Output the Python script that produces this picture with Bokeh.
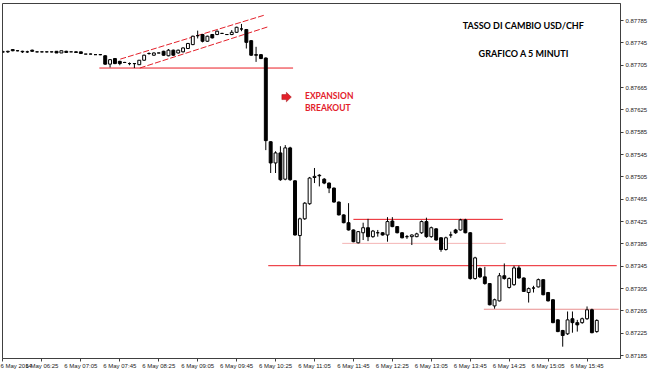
from bokeh.plotting import figure
from bokeh.models import Range1d, FixedTicker, ColumnDataSource, Label, NumeralTickFormatter
from bokeh.embed import file_html
from bokeh.resources import INLINE

# ---------------- data (USD/CHF, 5-minute bars, 6 May 2014) ----------------
open_ = [0.87729, 0.87729, 0.87733, 0.87731, 0.87730, 0.87729, 0.87732, 0.87729, 0.87729, 0.87729,
         0.87729, 0.87730, 0.87727, 0.87730, 0.87729, 0.87729, 0.87729, 0.87725, 0.87725, 0.87724,
         0.87724, 0.87722, 0.87707, 0.87717, 0.87712, 0.87710, 0.87708, 0.87708, 0.87706, 0.87714,
         0.87726, 0.87723, 0.87727, 0.87730, 0.87722, 0.87732, 0.87727, 0.87729, 0.87735, 0.87742,
         0.87758, 0.87760, 0.87748, 0.87760, 0.87760, 0.87762, 0.87760, 0.87760, 0.87764, 0.87770,
         0.87769, 0.87749, 0.87724, 0.87724, 0.87718, 0.87568, 0.87530, 0.87548, 0.87501, 0.87557,
         0.87498, 0.87400, 0.87430, 0.87457, 0.87504, 0.87508, 0.87501, 0.87494, 0.87485, 0.87460,
         0.87437, 0.87423, 0.87410, 0.87387, 0.87405, 0.87414, 0.87398, 0.87405, 0.87405, 0.87401,
         0.87426, 0.87416, 0.87405, 0.87398, 0.87398, 0.87398, 0.87405, 0.87425, 0.87398, 0.87412,
         0.87396, 0.87375, 0.87401, 0.87410, 0.87410, 0.87428, 0.87405, 0.87323, 0.87341, 0.87326,
         0.87314, 0.87274, 0.87283, 0.87328, 0.87307, 0.87312, 0.87342, 0.87324, 0.87298, 0.87306,
         0.87308, 0.87321, 0.87298, 0.87285, 0.87249, 0.87230, 0.87224, 0.87251, 0.87244, 0.87244,
         0.87251, 0.87267, 0.87228]
high = [0.87731, 0.87731, 0.87734, 0.87732, 0.87731, 0.87731, 0.87733, 0.87729, 0.87729, 0.87729,
        0.87729, 0.87730, 0.87731, 0.87731, 0.87729, 0.87730, 0.87729, 0.87725, 0.87726, 0.87724,
        0.87724, 0.87723, 0.87716, 0.87718, 0.87713, 0.87711, 0.87710, 0.87709, 0.87714, 0.87724,
        0.87728, 0.87728, 0.87727, 0.87731, 0.87734, 0.87733, 0.87733, 0.87737, 0.87745, 0.87758,
        0.87767, 0.87761, 0.87758, 0.87761, 0.87767, 0.87763, 0.87761, 0.87768, 0.87774, 0.87779,
        0.87770, 0.87750, 0.87738, 0.87725, 0.87719, 0.87569, 0.87551, 0.87560, 0.87562, 0.87559,
        0.87499, 0.87432, 0.87460, 0.87505, 0.87521, 0.87510, 0.87503, 0.87495, 0.87486, 0.87461,
        0.87438, 0.87458, 0.87411, 0.87408, 0.87423, 0.87430, 0.87410, 0.87410, 0.87406, 0.87433,
        0.87433, 0.87417, 0.87406, 0.87401, 0.87402, 0.87405, 0.87427, 0.87432, 0.87416, 0.87413,
        0.87397, 0.87398, 0.87407, 0.87412, 0.87430, 0.87430, 0.87406, 0.87362, 0.87343, 0.87344,
        0.87315, 0.87287, 0.87333, 0.87350, 0.87325, 0.87346, 0.87346, 0.87325, 0.87307, 0.87310,
        0.87323, 0.87322, 0.87299, 0.87286, 0.87250, 0.87231, 0.87264, 0.87264, 0.87249, 0.87253,
        0.87273, 0.87269, 0.87250]
low = [0.87727, 0.87727, 0.87730, 0.87730, 0.87727, 0.87727, 0.87729, 0.87728, 0.87728, 0.87728,
       0.87728, 0.87727, 0.87727, 0.87728, 0.87729, 0.87727, 0.87726, 0.87725, 0.87725, 0.87724,
       0.87723, 0.87706, 0.87701, 0.87707, 0.87705, 0.87709, 0.87705, 0.87700, 0.87706, 0.87713,
       0.87724, 0.87722, 0.87727, 0.87722, 0.87721, 0.87722, 0.87726, 0.87728, 0.87734, 0.87741,
       0.87753, 0.87746, 0.87747, 0.87753, 0.87759, 0.87761, 0.87760, 0.87759, 0.87763, 0.87766,
       0.87735, 0.87722, 0.87711, 0.87716, 0.87553, 0.87512, 0.87512, 0.87498, 0.87499, 0.87498,
       0.87400, 0.87346, 0.87428, 0.87455, 0.87494, 0.87488, 0.87492, 0.87476, 0.87459, 0.87436,
       0.87422, 0.87409, 0.87388, 0.87386, 0.87392, 0.87390, 0.87396, 0.87398, 0.87400, 0.87389,
       0.87415, 0.87404, 0.87395, 0.87394, 0.87383, 0.87397, 0.87403, 0.87396, 0.87396, 0.87391,
       0.87371, 0.87373, 0.87396, 0.87403, 0.87409, 0.87404, 0.87321, 0.87321, 0.87324, 0.87312,
       0.87275, 0.87269, 0.87282, 0.87321, 0.87305, 0.87310, 0.87323, 0.87299, 0.87280, 0.87298,
       0.87307, 0.87293, 0.87282, 0.87243, 0.87227, 0.87201, 0.87222, 0.87226, 0.87228, 0.87242,
       0.87249, 0.87225, 0.87226]
close = [0.87729, 0.87730, 0.87731, 0.87731, 0.87729, 0.87729, 0.87730, 0.87729, 0.87729, 0.87729,
         0.87729, 0.87727, 0.87731, 0.87728, 0.87729, 0.87728, 0.87726, 0.87725, 0.87725, 0.87724,
         0.87724, 0.87707, 0.87715, 0.87708, 0.87708, 0.87710, 0.87708, 0.87708, 0.87714, 0.87723,
         0.87726, 0.87727, 0.87727, 0.87723, 0.87732, 0.87723, 0.87732, 0.87736, 0.87744, 0.87757,
         0.87758, 0.87748, 0.87757, 0.87754, 0.87766, 0.87762, 0.87760, 0.87764, 0.87773, 0.87770,
         0.87746, 0.87723, 0.87723, 0.87717, 0.87570, 0.87530, 0.87548, 0.87500, 0.87557, 0.87500,
         0.87401, 0.87430, 0.87458, 0.87503, 0.87506, 0.87507, 0.87494, 0.87485, 0.87460, 0.87437,
         0.87423, 0.87410, 0.87389, 0.87407, 0.87414, 0.87398, 0.87408, 0.87405, 0.87401, 0.87425,
         0.87416, 0.87405, 0.87396, 0.87398, 0.87401, 0.87403, 0.87425, 0.87398, 0.87414, 0.87392,
         0.87375, 0.87396, 0.87401, 0.87405, 0.87428, 0.87405, 0.87323, 0.87360, 0.87326, 0.87314,
         0.87276, 0.87285, 0.87328, 0.87323, 0.87323, 0.87342, 0.87324, 0.87300, 0.87305, 0.87306,
         0.87321, 0.87294, 0.87283, 0.87244, 0.87228, 0.87221, 0.87249, 0.87244, 0.87240, 0.87251,
         0.87267, 0.87226, 0.87248]

tick_bars = [0, 8, 16, 24, 32, 40, 48, 56, 64, 72, 80, 88, 96, 104, 112, 120]
tick_labels = ["6 May 2014", "6 May 06:25", "6 May 07:05", "6 May 07:45", "6 May 08:25",
               "6 May 09:05", "6 May 09:45", "6 May 10:25", "6 May 11:05", "6 May 11:45",
               "6 May 12:25", "6 May 13:05", "6 May 13:45", "6 May 14:25", "6 May 15:05",
               "6 May 15:45"]
price_ticks = [0.87185, 0.87225, 0.87265, 0.87305, 0.87345, 0.87385, 0.87425, 0.87465,
               0.87505, 0.87545, 0.87585, 0.87625, 0.87665, 0.87705, 0.87745, 0.87785]

# horizontal levels: (from bar, to bar, price, colour)
level_from = [19.8, 54.5, 72.0, 69.7, 98.8]
level_to = [59.6, 126.1, 102.7, 103.3, 126.5]
level_price = [0.87700, 0.87346, 0.87429, 0.87386, 0.87268]
level_color = ["#ea1c24", "#ea1c24", "#ea1c24", "#f4b4b4", "#e98f8f"]

# rising channel lines: (bar0, price0, bar1, price1)
chan_x0 = [24.1, 28.1]
chan_y0 = [0.87716, 0.87700]
chan_x1 = [53.8, 54.5]
chan_y1 = [0.87795, 0.87774]

RED = "#e3202a"
BAR_PX = 4.875          # pixels per bar
PRICE_PX = 0.00001786   # price per pixel

bars = list(range(len(open_)))
src = ColumnDataSource(dict(
    x=bars, o=open_, h=high, l=low, c=close,
    top=[max(a, b) for a, b in zip(open_, close)],
    bottom=[min(a, b) for a, b in zip(open_, close)],
    fill=["white" if c >= o else "black" for o, c in zip(open_, close)],
))

p = figure(width=650, height=371, output_backend="svg", toolbar_location=None,
           x_range=Range1d(-0.1, -0.1 + 619 / BAR_PX),
           y_range=Range1d(0.871798, 0.878156),
           y_axis_location="right",
           min_border_left=2, min_border_top=3, min_border_right=29, min_border_bottom=12)
p.xgrid.visible = False
p.ygrid.visible = False
p.outline_line_color = "#404040"
p.outline_line_width = 1
p.background_fill_color = "white"
p.border_fill_color = "white"

# axes
for ax in (p.xaxis[0], p.yaxis[0]):
    ax.major_tick_in = 0
    ax.major_tick_out = 3
    ax.minor_tick_in = 0
    ax.minor_tick_out = 0
    ax.axis_line_color = "#404040"
    ax.major_tick_line_color = "#404040"
    ax.major_label_text_font = "Liberation Sans"
    ax.major_label_text_font_size = "6px"
    ax.major_label_text_color = "#1a1a1a"

p.xaxis.ticker = FixedTicker(ticks=tick_bars)
p.xaxis.major_label_overrides = {b: s for b, s in zip(tick_bars, tick_labels)}
p.xaxis.major_label_standoff = 1
p.xaxis.major_label_text_align = "left"

p.yaxis.ticker = FixedTicker(ticks=price_ticks)
p.yaxis.formatter = NumeralTickFormatter(format="0.00000")
p.yaxis.major_label_standoff = 2

# level lines & channel
lsrc = ColumnDataSource(dict(x0=level_from, x1=level_to, y=level_price, color=level_color))
p.segment(x0="x0", y0="y", x1="x1", y1="y", line_color="color", line_width=1, source=lsrc)
p.segment(x0=chan_x0, y0=chan_y0, x1=chan_x1, y1=chan_y1, line_color=RED,
          line_width=1, line_dash="6 2")

# candles
p.segment(x0="x", y0="h", x1="x", y1="l", source=src, line_color="black", line_width=1)
p.vbar(x="x", width=0.6, top="top", bottom="bottom", fill_color="fill",
       line_color="black", line_width=1, source=src)

# block arrow next to breakout text
ax0, ay0 = 57.3, 0.87648
shape_px = [(0, -2.5), (4.5, -2.5), (4.5, -4.8), (9.5, 0), (4.5, 4.8), (4.5, 2.5), (0, 2.5)]
p.patch([ax0 + dx / BAR_PX for dx, dy in shape_px],
        [ay0 - dy * PRICE_PX for dx, dy in shape_px],
        fill_color=RED, line_color="#a01015", line_width=0.5)

# texts
def add_label(x, y, text, color, align, size):
    p.add_layout(Label(x=x, y=y, text=text, text_color=color, text_font="Lato",
                       text_font_style="bold", text_font_size=size,
                       text_align=align, text_baseline="middle"))

add_label(106.9, 0.87777, "TASSO DI CAMBIO USD/CHF", "black", "center", "9px")
add_label(107.0, 0.87726, "GRAFICO A 5 MINUTI", "black", "center", "9px")
add_label(62.05, 0.87650, "EXPANSION", RED, "left", "8.5px")
add_label(62.05, 0.87628, "BREAKOUT", RED, "left", "8.5px")

open("out.html", "w").write(file_html(p, INLINE))
